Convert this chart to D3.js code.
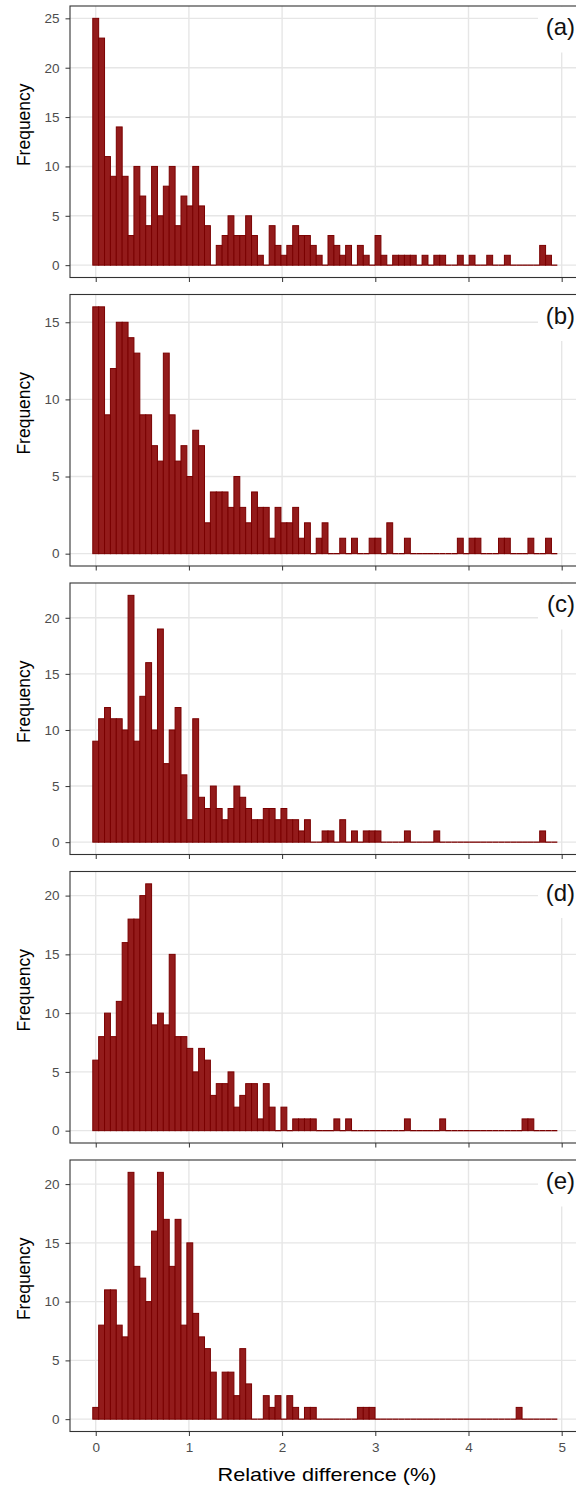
<!DOCTYPE html>
<html><head><meta charset="utf-8">
<script src="https://cdn.jsdelivr.net/npm/d3@7"></script>
<style>body{margin:0;background:#fff}svg{display:block}</style>
</head><body>
<svg id="chart" width="576" height="1488"></svg>
<script>
// ---- data ----
const panelLabels = ["(a)", "(b)", "(c)", "(d)", "(e)"];
const binWidth = 0.0631;            // histogram bin width (% units), first bin centred on 0
const countsA = [25,23,11,9,14,9,3,10,7,4, 10,5,8,10,4,7,6,10,6,4, 0,2,3,5,3,3,5,3,1,0, 4,2,1,2,4,3,3,2,1,0, 3,2,1,2,0,2,1,0,3,1, 0,1,1,1,1,0,1,0,1,1, 0,0,1,0,1,0,0,1,0,0, 1,0,0,0,0,0,2,1,0];
const countsB = [16,16,9,12,15,15,14,13,9,9, 7,6,13,9,6,7,5,8,7,2, 4,4,4,3,5,3,2,4,3,3, 1,3,2,2,3,1,2,0,1,2, 0,0,1,0,1,0,0,1,1,0, 2,0,0,1,0,0,0,0,0,0, 0,0,1,0,1,1,0,0,0,1, 1,0,0,0,1,0,0,1,0];
const countsC = [9,11,12,11,11,10,22,9,13,16, 10,19,7,10,12,6,2,11,4,3, 5,3,2,3,5,4,3,2,2,3, 3,2,3,2,2,1,2,0,0,1, 1,0,2,0,1,0,1,1,1,0, 0,0,0,1,0,0,0,0,1,0, 0,0,0,0,0,0,0,0,0,0, 0,0,0,0,0,0,1,0,0];
const countsD = [6,8,10,8,11,16,18,18,20,21, 9,10,9,15,8,8,7,5,7,6, 3,4,4,5,2,3,4,4,1,4, 2,0,2,0,1,1,1,1,0,0, 0,1,0,1,0,0,0,0,0,0, 0,0,0,1,0,0,0,0,0,1, 0,0,0,0,0,0,0,0,0,0, 0,0,0,1,1,0,0,0,0];
const countsE = [1,8,11,11,8,7,21,13,12,10, 16,21,17,13,17,8,15,9,7,6, 4,0,4,4,2,6,3,0,0,2, 1,2,0,2,1,0,1,1,0,0, 0,0,0,0,0,1,1,1,0,0, 0,0,0,0,0,0,0,0,0,0, 0,0,0,0,0,0,0,0,0,0, 0,0,1,0,0,0,0,0,0];
const xTicks = [0, 1, 2, 3, 4, 5];
const yTicksA = [0, 5, 10, 15, 20, 25];
const yTicksB = [0, 5, 10, 15];
const yTicksC = [0, 5, 10, 15, 20];
const yTicksD = [0, 5, 10, 15, 20];
const yTicksE = [0, 5, 10, 15, 20];
const xTitle = "Relative difference (%)";
const yTitle = "Frequency";

const panels = [
  {label: panelLabels[0], counts: countsA, yTicks: yTicksA},
  {label: panelLabels[1], counts: countsB, yTicks: yTicksB},
  {label: panelLabels[2], counts: countsC, yTicks: yTicksC},
  {label: panelLabels[3], counts: countsD, yTicks: yTicksD},
  {label: panelLabels[4], counts: countsE, yTicks: yTicksE}
];

// ---- layout ----
const svg = d3.select("#chart");
const left = 70, right = 582, panelH = 271.5, step = 288.5, firstTop = 6;
const font = "'Liberation Sans', Arial, Helvetica, sans-serif";
const fillCol = "#931b1b", strokeCol = "#7a0000";

const x = d3.scaleLinear().domain([-0.276, 5.218]).range([left, right]);

panels.forEach((p, i) => {
  const top = firstTop + i * step, bottom = top + panelH;
  const maxV = d3.max(p.counts);
  const y = d3.scaleLinear().domain([-0.05 * maxV, 1.05 * maxV]).range([bottom, top]);
  const g = svg.append("g");
  const bins = p.counts.map((v, k) => ({x0: k * binWidth - binWidth / 2, x1: k * binWidth + binWidth / 2, v}));

  g.append("rect").attr("x", left).attr("y", top).attr("width", right - left).attr("height", panelH).attr("fill", "#fff");

  // gridlines
  g.selectAll(".gx").data(xTicks).join("line")
    .attr("x1", d => x(d)).attr("x2", d => x(d)).attr("y1", top).attr("y2", bottom)
    .attr("stroke", "#e6e6e6").attr("stroke-width", 1.4);
  g.selectAll(".gy").data(p.yTicks).join("line")
    .attr("x1", left).attr("x2", right).attr("y1", d => y(d)).attr("y2", d => y(d))
    .attr("stroke", "#e6e6e6").attr("stroke-width", 1.4);

  // white label box
  g.append("rect").attr("x", 538).attr("y", top + 0.5).attr("width", right - 538).attr("height", 46).attr("fill", "#fff");
  g.append("text").attr("x", 575).attr("y", top + 29).attr("text-anchor", "end")
    .attr("font-family", font).attr("font-size", 24).attr("fill", "#111").text(p.label);

  // bars
  g.selectAll(".bar").data(bins.filter(b => b.v > 0)).join("rect")
    .attr("x", b => x(b.x0)).attr("width", b => x(b.x1) - x(b.x0))
    .attr("y", b => y(b.v)).attr("height", b => y(0) - y(b.v))
    .attr("fill", fillCol).attr("stroke", strokeCol).attr("stroke-width", 1);
  g.selectAll(".zero").data(bins.filter(b => b.v === 0)).join("line")
    .attr("x1", b => x(b.x0)).attr("x2", b => x(b.x1)).attr("y1", y(0)).attr("y2", y(0))
    .attr("stroke", strokeCol).attr("stroke-width", 1.3);

  // border
  g.append("rect").attr("x", left).attr("y", top).attr("width", right - left).attr("height", panelH)
    .attr("fill", "none").attr("stroke", "#333").attr("stroke-width", 1.1);

  // axes
  const ya = g.append("g").attr("transform", `translate(${left},0)`)
    .call(d3.axisLeft(y).tickValues(p.yTicks).tickSize(4.5).tickPadding(6).tickFormat(d3.format("d")));
  ya.select(".domain").remove();
  ya.selectAll("line").attr("stroke", "#333");
  ya.selectAll("text").attr("font-family", font).attr("font-size", 13.5).attr("fill", "#4d4d4d");

  const xa = g.append("g").attr("transform", `translate(0,${bottom})`)
    .call(d3.axisBottom(x).tickValues(xTicks).tickSize(4.5).tickPadding(6).tickFormat(d3.format("d")));
  xa.select(".domain").remove();
  xa.selectAll("line").attr("stroke", "#333");
  if (i < panels.length - 1) xa.selectAll("text").remove();
  else xa.selectAll("text").attr("font-family", font).attr("font-size", 13.5).attr("fill", "#4d4d4d");

  svg.append("text").attr("transform", `translate(30,${top + panelH / 2 - 17}) rotate(-90)`)
    .attr("text-anchor", "middle").attr("font-family", font).attr("font-size", 17.5).attr("fill", "#000").text(yTitle);
});

svg.append("text").attr("x", 327).attr("y", 1481).attr("text-anchor", "middle")
  .attr("font-family", font).attr("font-size", 19).attr("textLength", 219).attr("lengthAdjust", "spacingAndGlyphs")
  .attr("fill", "#000").text(xTitle);
</script>
</body></html>
